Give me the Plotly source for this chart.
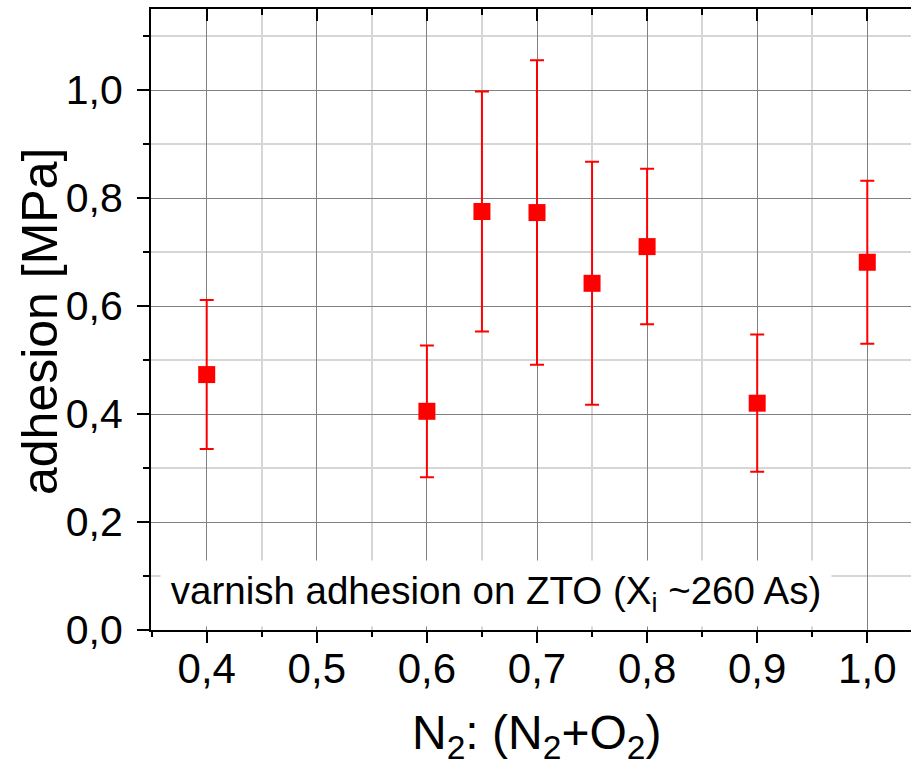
import plotly.graph_objects as go

# data
ratio = [0.4, 0.6, 0.65, 0.7, 0.75, 0.8, 0.9, 1.0]
adhesion = [0.473, 0.405, 0.775, 0.773, 0.642, 0.710, 0.420, 0.681]
adhesion_err = [0.138, 0.122, 0.222, 0.282, 0.225, 0.144, 0.127, 0.151]

x_title = "N<sub>2</sub>: (N<sub>2</sub>+O<sub>2</sub>)"
y_title = "adhesion [MPa]"
note = "varnish adhesion on ZTO (X<sub>i</sub> ~260 As)"

FONT = "Liberation Sans, Arial, sans-serif"
RED = "#ff0000"

fig = go.Figure()
fig.add_trace(go.Scatter(
    x=ratio, y=adhesion, mode="markers",
    marker=dict(symbol="square", size=17, color=RED, line=dict(width=0)),
    error_y=dict(type="data", array=adhesion_err, symmetric=True,
                 color=RED, thickness=2, width=7),
    showlegend=False, hoverinfo="x+y",
))
# invisible traces carrying the extra tick axes (top inward, bottom outward)
for ax in ("x2", "x3"):
    fig.add_trace(go.Scatter(
        x=ratio, y=adhesion, mode="markers", xaxis=ax,
        marker=dict(opacity=0), showlegend=False, hoverinfo="skip",
    ))

xrange = [0.3494, 1.0397]
yrange = [0, 1.15]

fig.update_layout(
    width=911, height=772,
    margin=dict(l=151, r=0, t=9, b=142),
    paper_bgcolor="white", plot_bgcolor="white",
    separators=", ",
    font=dict(family=FONT, color="black", size=42),
    xaxis=dict(
        range=xrange, tick0=0, dtick=0.1, tickformat=".1f",
        ticks="", showline=True, linewidth=2, linecolor="black",
        showgrid=True, gridcolor="#808080", gridwidth=1,
        zeroline=False, ticklabelstandoff=1,
        tickfont=dict(size=42, family=FONT),
        minor=dict(dtick=0.05, tick0=0, ticks="", showgrid=True,
                   gridcolor="#d6d6d6", gridwidth=1.5),
    ),
    xaxis2=dict(
        range=xrange, overlaying="x", side="top", tick0=0, dtick=0.1,
        ticks="inside", ticklen=12, tickwidth=2, tickcolor="black",
        showticklabels=False, showline=True, linewidth=2, linecolor="black",
        showgrid=False, zeroline=False,
        minor=dict(dtick=0.05, tick0=0, ticks="inside", ticklen=6, tickwidth=2,
                   tickcolor="black", showgrid=False),
    ),
    xaxis3=dict(
        range=xrange, overlaying="x", side="bottom", tick0=0, dtick=0.1,
        ticks="outside", ticklen=12, tickwidth=2, tickcolor="black",
        showticklabels=False, showline=False,
        showgrid=False, zeroline=False,
        minor=dict(dtick=0.05, tick0=0, ticks="outside", ticklen=6, tickwidth=2,
                   tickcolor="black", showgrid=False),
    ),
    yaxis=dict(
        range=yrange, tick0=0, dtick=0.2, tickformat=".1f",
        ticks="outside", ticklen=12, tickwidth=2, tickcolor="black",
        showline=True, linewidth=2, linecolor="black",
        showgrid=True, gridcolor="#808080", gridwidth=1,
        zeroline=False, ticklabelstandoff=6,
        tickfont=dict(size=41, family=FONT),
        minor=dict(dtick=0.1, tick0=0, ticks="outside", ticklen=6, tickwidth=2,
                   tickcolor="black", showgrid=True, gridcolor="#d6d6d6", gridwidth=1.5),
    ),
    annotations=[
        dict(text=note, x=0.6628, y=0.0676, xref="x", yref="y",
             showarrow=False, bgcolor="white", width=668, height=63,
             font=dict(size=38.5, family=FONT, color="black"),
             xanchor="center", yanchor="middle"),
        dict(text=x_title, x=0.5072, y=-0.171, xref="paper", yref="paper",
             showarrow=False, font=dict(size=48, family=FONT, color="black"),
             xanchor="center", yanchor="middle"),
        dict(text=y_title, x=-0.146, y=0.496, xref="paper", yref="paper",
             showarrow=False, textangle=-90,
             font=dict(size=50, family=FONT, color="black"),
             xanchor="center", yanchor="middle"),
    ],
)

fig.write_html("out.html")
